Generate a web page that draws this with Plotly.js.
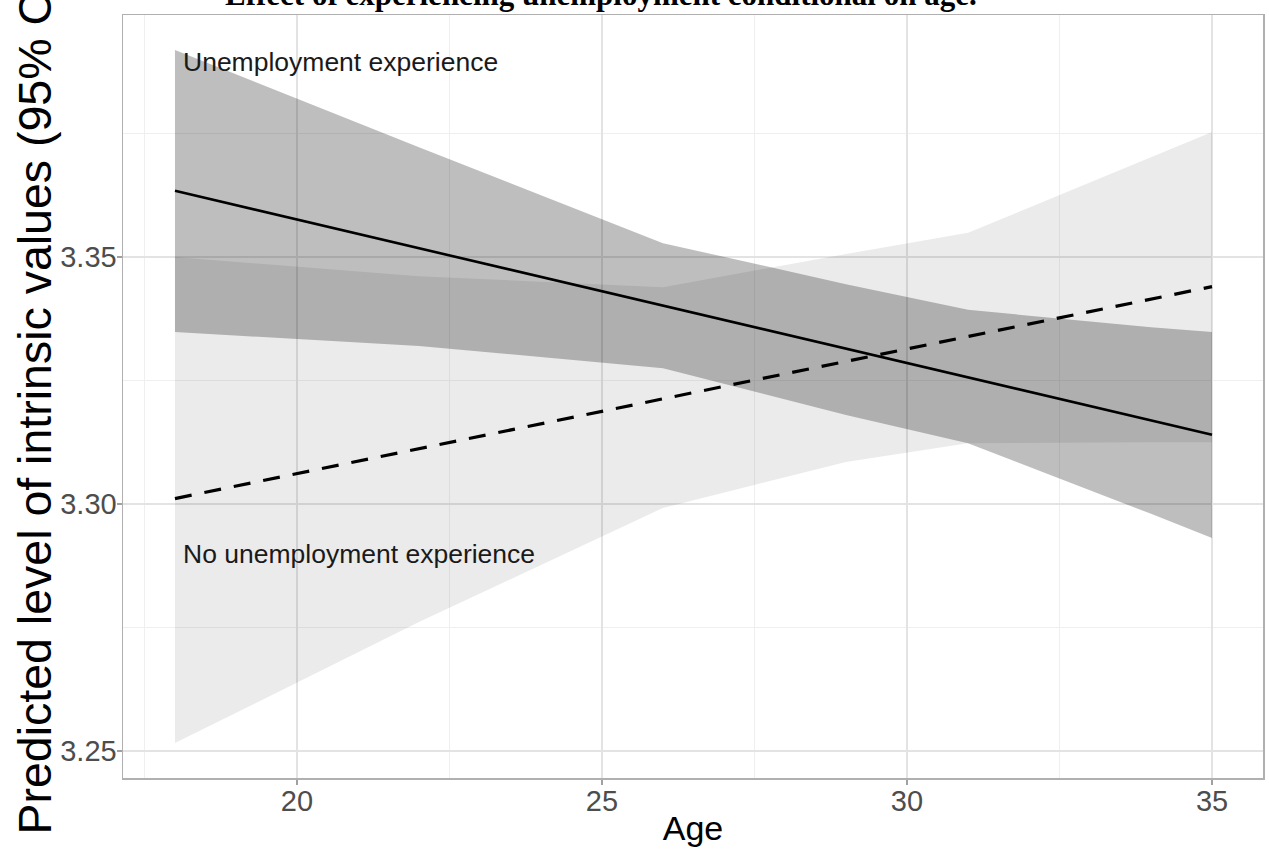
<!DOCTYPE html>
<html>
<head>
<meta charset="utf-8">
<script src="https://cdn.plot.ly/plotly-3.0.1.min.js"></script>
<style>
  html, body { margin: 0; padding: 0; background: #ffffff; }
  #chart { width: 1269px; height: 859px; }
</style>
</head>
<body>
<div id="chart"></div>
<script>
// ---- Data ----
const ages = [18, 22, 26, 29, 31, 34, 35];
const unempUpper   = [3.3919, 3.3722, 3.3528, 3.3445, 3.3393, 3.3358, 3.3348];
const unempLower   = [3.3348, 3.3320, 3.3275, 3.3180, 3.3123, 3.2980, 3.2931];
const noUnempUpper = [3.3500, 3.3461, 3.3439, 3.3506, 3.3549, 3.3702, 3.3753];
const noUnempLower = [3.2516, 3.2761, 3.2992, 3.3085, 3.3123, 3.3125, 3.3125];

const fitAges     = [18, 35];
const unempFit    = [3.3634, 3.3140];
const noUnempFit  = [3.3011, 3.3440];

const xTickVals = [20, 25, 30, 35];
const yTickVals = [3.25, 3.30, 3.35];

const chartTitle = "Effect of experiencing unemployment conditional on age.";
const xTitle = "Age";
const yTitle = "Predicted level of intrinsic values (95% C.I.)";
const labelUnemp = "Unemployment experience";
const labelNoUnemp = "No unemployment experience";

// ---- Build ribbon polygons from arrays ----
function ribbon(xs, lo, hi) {
  return {
    x: xs.concat(xs.slice().reverse()),
    y: hi.concat(lo.slice().reverse())
  };
}
const rNo = ribbon(ages, noUnempLower, noUnempUpper);
const rUn = ribbon(ages, unempLower, unempUpper);

const traces = [
  { x: rNo.x, y: rNo.y, type: 'scatter', mode: 'lines', fill: 'toself',
    fillcolor: 'rgba(0,0,0,0.08)', line: {width: 0, color: 'rgba(0,0,0,0)'},
    hoverinfo: 'skip', showlegend: false, name: 'No unemployment CI' },
  { x: rUn.x, y: rUn.y, type: 'scatter', mode: 'lines', fill: 'toself',
    fillcolor: 'rgba(0,0,0,0.255)', line: {width: 0, color: 'rgba(0,0,0,0)'},
    hoverinfo: 'skip', showlegend: false, name: 'Unemployment CI' },
  { x: fitAges, y: noUnempFit, type: 'scatter', mode: 'lines',
    line: {color: '#000000', width: 3.2, dash: '17px,13px'},
    showlegend: false, name: 'No unemployment experience' },
  { x: fitAges, y: unempFit, type: 'scatter', mode: 'lines',
    line: {color: '#000000', width: 2.6},
    showlegend: false, name: 'Unemployment experience' }
];

const W = 1269, H = 859;
const L = 123, R = 6, T = 15, B = 81;
const pw = W - L - R, ph = H - T - B;

const layout = {
  width: W, height: H,
  margin: {l: L, r: R, t: T, b: B, pad: 0},
  paper_bgcolor: '#ffffff',
  plot_bgcolor: '#ffffff',
  font: {family: 'Liberation Sans, Arial, sans-serif', color: '#1a1a1a'},
  showlegend: false,
  xaxis: {
    range: [17.148, 35.836],
    tickvals: xTickVals,
    ticktext: xTickVals.map(String),
    showgrid: true, gridcolor: '#e3e3e3', gridwidth: 1.8,
    minor: {dtick: 2.5, tick0: 0, showgrid: true, gridcolor: '#efefef', gridwidth: 1},
    zeroline: false,
    showline: true, linecolor: '#b0b0b0', linewidth: 1.5, mirror: true,
    ticks: 'outside', ticklen: 5, tickwidth: 1.2, tickcolor: '#a0a0a0',
    ticklabelstandoff: -8,
    tickfont: {size: 29, color: '#4d4d4d'},
    title: {text: xTitle, font: {size: 34, color: '#000000'}, standoff: 0},
    automargin: false,
    fixedrange: true
  },
  yaxis: {
    range: [3.24453, 3.39899],
    tickvals: yTickVals,
    ticktext: yTickVals.map(v => v.toFixed(2)),
    showgrid: true, gridcolor: '#e3e3e3', gridwidth: 1.8,
    minor: {dtick: 0.025, tick0: 3.25, showgrid: true, gridcolor: '#efefef', gridwidth: 1},
    zeroline: false,
    showline: true, linecolor: '#b0b0b0', linewidth: 1.5, mirror: true,
    ticks: 'outside', ticklen: 5, tickwidth: 1.2, tickcolor: '#a0a0a0',
    ticklabelstandoff: -6,
    tickfont: {size: 29, color: '#4d4d4d'},
    automargin: false,
    fixedrange: true
  },
  annotations: [
    { text: '<b>' + chartTitle + '</b>', xref: 'paper', yref: 'paper',
      x: (223 - L) / pw, y: 1 + (T + 5) / ph, xanchor: 'left', yanchor: 'middle',
      showarrow: false, font: {family: 'Liberation Serif, Times New Roman, serif', size: 31, color: '#000000'} },
    { text: yTitle, xref: 'paper', yref: 'paper', textangle: -90,
      x: (34 - L) / pw, y: (H - B - 837) / ph, xanchor: 'center', yanchor: 'bottom',
      showarrow: false, font: {size: 46.5, color: '#000000'} },
    { text: labelUnemp, xref: 'x', yref: 'y', x: 18.1, y: 3.3895,
      xanchor: 'left', yanchor: 'middle', showarrow: false,
      font: {size: 26.5, color: '#1a1a1a'} },
    { text: labelNoUnemp, xref: 'x', yref: 'y', x: 18.1, y: 3.2899,
      xanchor: 'left', yanchor: 'middle', showarrow: false,
      font: {size: 26.5, color: '#1a1a1a'} }
  ]
};

Plotly.newPlot('chart', traces, layout, {displayModeBar: false, staticPlot: true});
</script>
</body>
</html>
